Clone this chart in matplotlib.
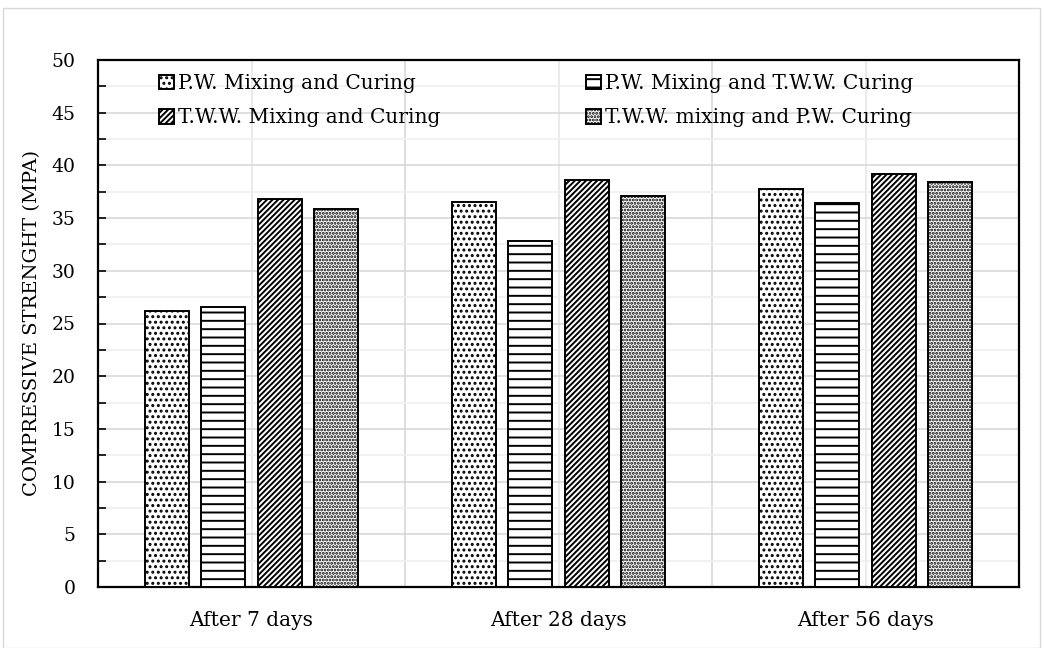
import matplotlib
matplotlib.use("Agg")
import matplotlib.pyplot as plt
import numpy as np
from matplotlib.patches import Rectangle
from matplotlib.ticker import MultipleLocator

categories = ["After 7 days", "After 28 days", "After 56 days"]
series_names = ["P.W. Mixing and Curing", "P.W. Mixing and T.W.W. Curing",
                "T.W.W. Mixing and Curing", "T.W.W. mixing and P.W. Curing"]
pw_mix_cure = [26.2, 36.5, 37.8]
pw_mix_tww_cure = [26.6, 32.8, 36.4]
tww_mix_cure = [36.8, 38.6, 39.2]
tww_mix_pw_cure = [35.9, 37.1, 38.4]
series_values = [pw_mix_cure, pw_mix_tww_cure, tww_mix_cure, tww_mix_pw_cure]
hatches = ["...", "--", "//////", "....."]

plt.rcParams['font.family'] = ['DejaVu Serif']
plt.rcParams['hatch.linewidth'] = 1.4

fig = plt.figure(figsize=(10.44, 6.48), dpi=100)
ax = fig.add_axes([98/1044, 1-587/648, (1019-98)/1044, (587-60)/648])

x = np.arange(len(categories))
bw = 0.143
spacing = 0.183
offsets = (np.arange(4) - 1.5) * spacing
bars = []
for i in range(4):
    b = ax.bar(x + offsets[i], series_values[i], width=bw, color="white",
               edgecolor="black", linewidth=1.4, hatch=hatches[i],
               label=series_names[i], zorder=3)
    bars.append(b)

ax.set_xlim(-0.5, 2.5)
ax.set_ylim(0, 50)
ax.yaxis.set_major_locator(MultipleLocator(5))
ax.yaxis.set_minor_locator(MultipleLocator(2.5))
ax.set_xticks(x)
ax.set_xticklabels(categories)
ax.set_xticks([0.5, 1.5], minor=True)
ax.grid(which="major", axis="y", color="#d9d9d9", linewidth=1.2, zorder=0)
ax.grid(which="minor", axis="y", color="#efefef", linewidth=1.2, zorder=0)
ax.grid(which="major", axis="x", color="#e6e6e6", linewidth=1.2, zorder=0)
ax.grid(which="minor", axis="x", color="#d9d9d9", linewidth=1.2, zorder=0)
ax.set_axisbelow(True)
ax.tick_params(axis="y", which="both", direction="in", length=6, width=1.2,
               labelsize=13.5, pad=16)
ax.tick_params(axis="x", which="both", length=0, labelsize=14.5, pad=17)
for s in ax.spines.values():
    s.set_linewidth(1.6)
ax.set_ylabel("COMPRESSIVE STRENGHT (MPA)", fontsize=14, labelpad=8)

# legend row-wise ordering (2 columns): matplotlib fills column-first
order = [0, 2, 1, 3]
leg = ax.legend([bars[i] for i in order], [series_names[i] for i in order],
                loc="upper left", bbox_to_anchor=(0.051, 1.0), ncol=2,
                frameon=False, fontsize=14.5, handlelength=0.75,
                handleheight=0.75, handletextpad=0.2, columnspacing=7.2,
                labelspacing=0.75, borderaxespad=0.3)

fig.patches.append(Rectangle((3/1044, 0.0), 1037/1044, 1-8/648,
                             transform=fig.transFigure, fill=False,
                             edgecolor="#d9d9d9", linewidth=1.0))

fig.savefig("out.png", dpi=100)
